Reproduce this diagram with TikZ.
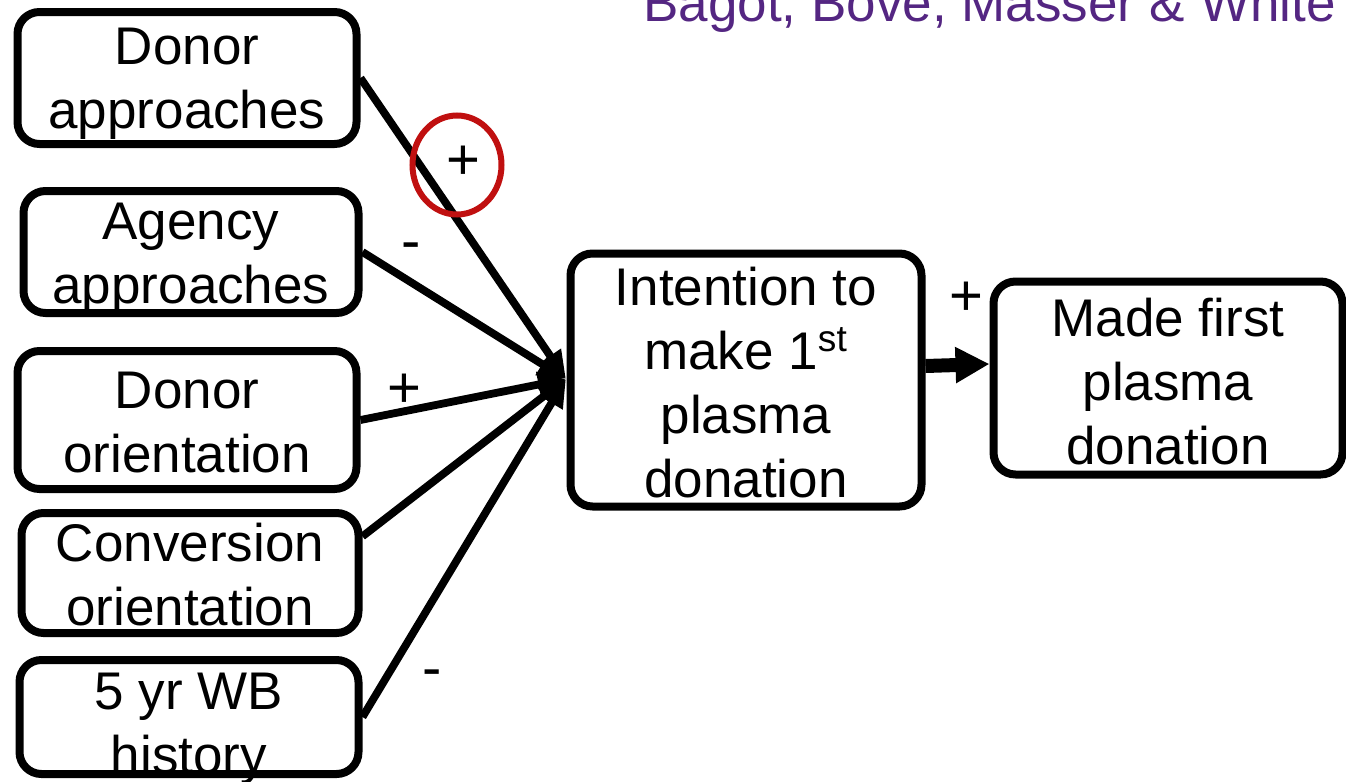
\documentclass[tikz,border=0pt]{standalone}
\usepackage{fontspec}
\setmainfont{Liberation Sans}
\usepackage{tikz}
\usetikzlibrary{arrows.meta}

\definecolor{creditpurple}{RGB}{84,38,130}
\definecolor{ringred}{RGB}{192,16,16}

\begin{document}
\begin{tikzpicture}[x=0.5pt, y=-0.5pt,
    every node/.style={font=\fontsize{26.5}{32}\selectfont},
    box/.style={shape=rectangle, draw, line width=4pt, rounded corners=11pt, inner sep=0pt},
    boxtext/.style={align=center, inner sep=0pt},
    link/.style={line width=3.9pt, -{Triangle[length=14pt, width=12pt]}},
    mainlink/.style={line width=7pt, -{Triangle[length=17pt, width=17pt]}},
    sign/.style={anchor=base, inner sep=0pt, font=\fontsize{29}{32}\selectfont}]
  \useasboundingbox (0, 0) rectangle (1346, 782);
  \node (credit) at (1336, 21) [anchor=base east, inner sep=0pt, text=creditpurple] {Bagot, Bove, Masser \& White};
  \node (donorapp) at (187, 78) [box, minimum width=169.5pt, minimum height=66pt] {};
  \node (agencyapp) at (191, 252) [box, minimum width=167.5pt, minimum height=61pt] {};
  \node (donoror) at (187, 420) [box, minimum width=169.5pt, minimum height=69pt] {};
  \node (convor) at (190, 573) [box, minimum width=168.5pt, minimum height=60pt] {};
  \node (wbhist) at (189, 717) [box, minimum width=169.5pt, minimum height=57pt] {};
  \node (intent) at (746, 380) [box, minimum width=175.5pt, minimum height=126.5pt] {};
  \node (made) at (1168, 378) [box, minimum width=174.5pt, minimum height=96.5pt] {};
  \node (donorapptext) at (187, 84) [boxtext] {Donor\\approaches};
  \node (agencyapptext) at (191, 259) [boxtext] {Agency\\approaches};
  \node (donorortext) at (187, 423) [boxtext] {Donor\\orientation};
  \node (convortext) at (190, 575) [boxtext] {Conversion\\orientation};
  \node (wbhisttext) at (189, 729) [boxtext] {5 yr WB\\history};
  \node (intenttext) at (746, 383) [boxtext] {Intention to\\make 1\textsuperscript{st}\\plasma\\donation};
  \node (madetext) at (1168, 382) [boxtext] {Made first\\plasma\\donation};
  \coordinate (tip) at (566, 379);
  \draw[link] (donorapp.east) -- (tip);
  \draw[link] (agencyapp.east) -- (tip);
  \draw[link] (donoror.east) -- (tip);
  \draw[link] (convor.12) -- (tip);
  \draw[link] (wbhist.east) -- (tip);
  \draw[mainlink] ([yshift=7pt]intent.east) -- ([yshift=7pt]made.west);
  \node (plusdonorapp) at (463, 179) [sign] {+};
  \node (minusagencyapp) at (411, 260) [sign] {-};
  \node (plusdonoror) at (404, 407) [sign] {+};
  \node (minuswbhist) at (432, 687) [sign] {-};
  \node (plusintent) at (966, 315) [sign] {+};
  \draw[ringred, line width=3pt] (457, 165) ellipse (22.25pt and 24.75pt);
\end{tikzpicture}
\end{document}
